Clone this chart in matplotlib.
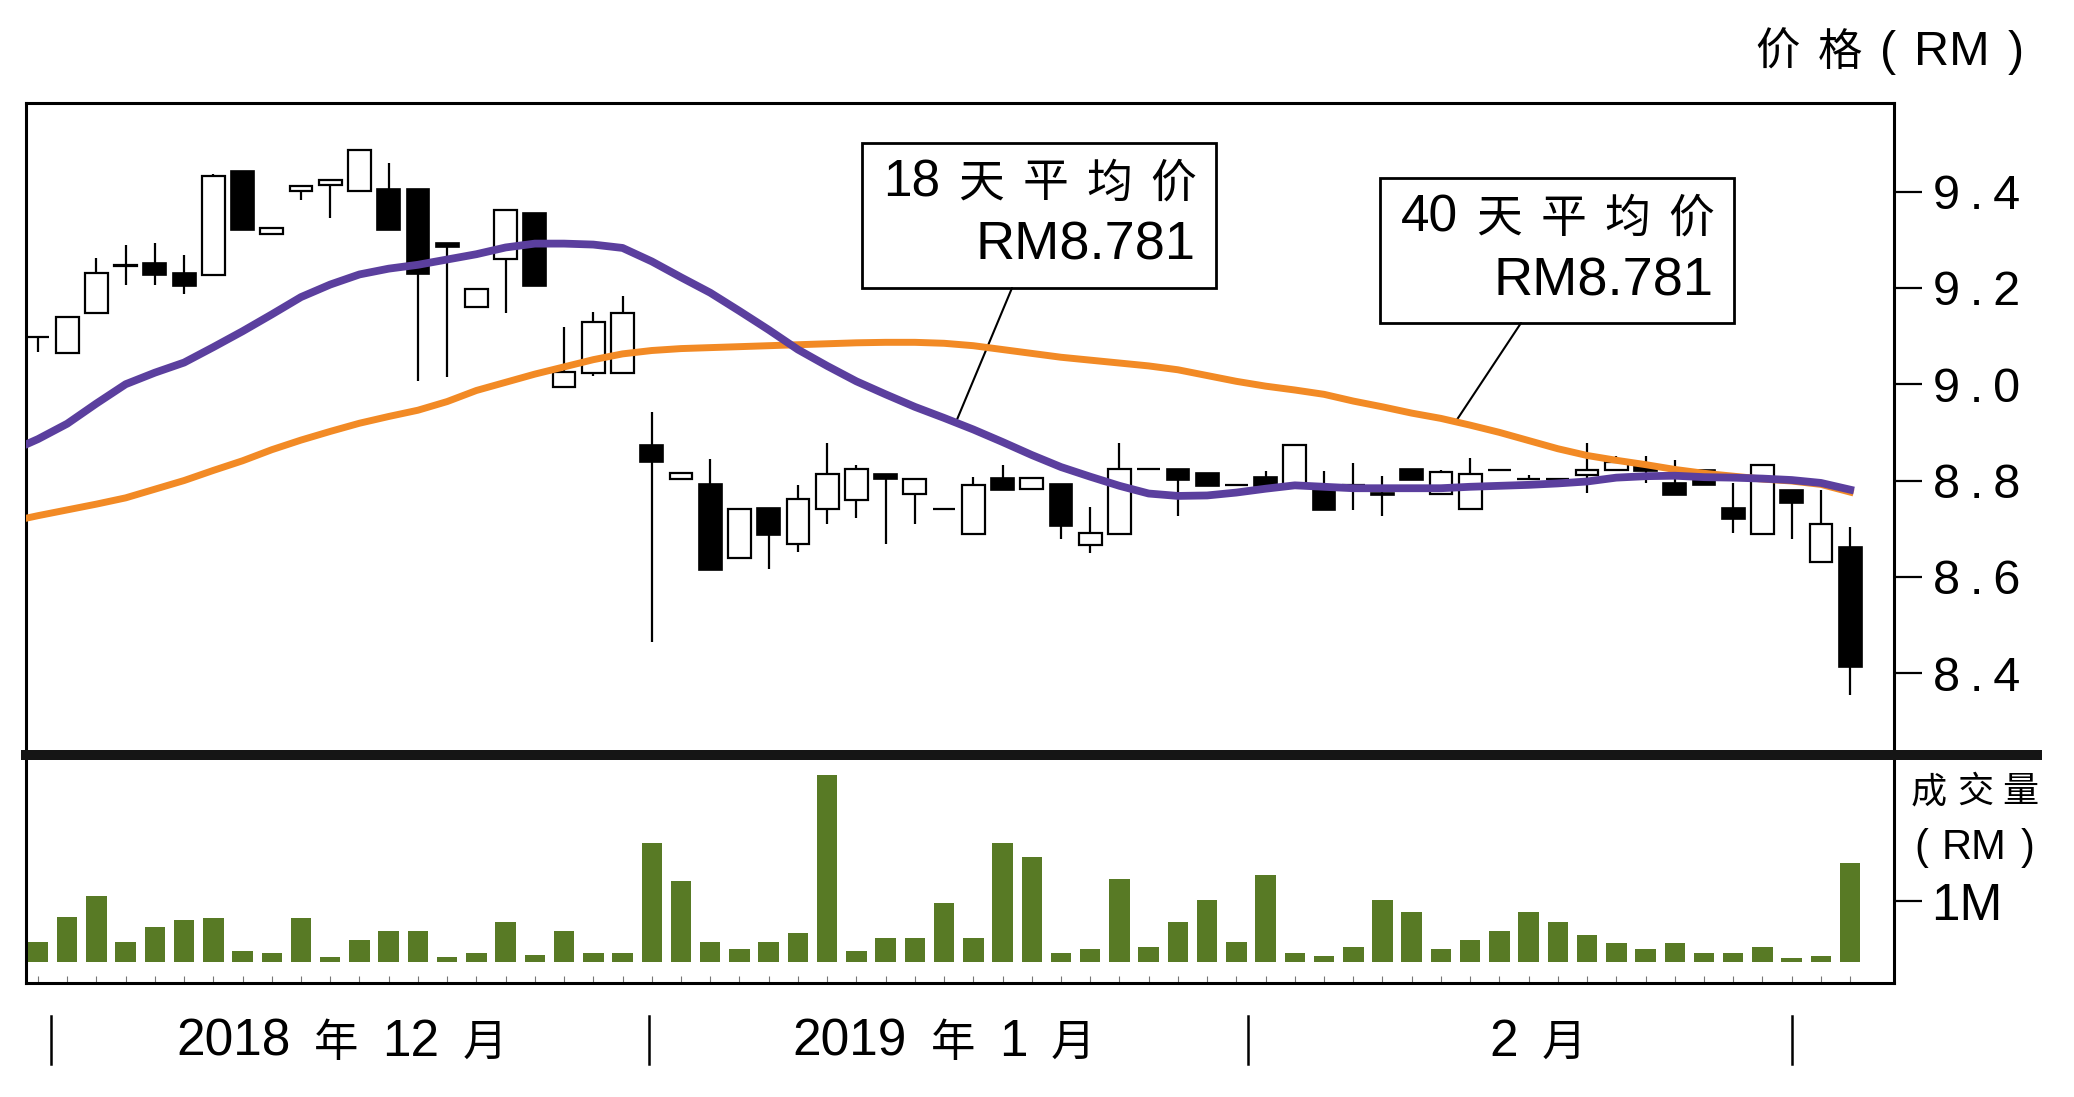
import numpy as np
import matplotlib
matplotlib.use('Agg')
import matplotlib.pyplot as plt
from matplotlib.lines import Line2D
from matplotlib.patches import Rectangle
from matplotlib.offsetbox import TextArea, HPacker, AnnotationBbox

plt.rcParams['font.family'] = ['Liberation Sans', 'Noto Sans CJK SC', 'DejaVu Sans']

# ---------------- data ----------------
opens = [9.098, 9.064, 9.148, 9.245, 9.251, 9.231, 9.227, 9.442, 9.312, 9.402,
         9.414, 9.402, 9.405, 9.406, 9.293, 9.160, 9.259, 9.356, 8.995, 9.024,
         9.023, 8.874, 8.803, 8.792, 8.639, 8.743, 8.668, 8.740, 8.760, 8.814,
         8.772, 8.740, 8.689, 8.805, 8.782, 8.792, 8.666, 8.689, 8.824, 8.824,
         8.815, 8.791, 8.807, 8.791, 8.781, 8.790, 8.775, 8.824, 8.772, 8.741,
         8.822, 8.803, 8.803, 8.812, 8.822, 8.833, 8.794, 8.822, 8.743, 8.689,
         8.781, 8.630, 8.661]
highs = [9.098, 9.139, 9.262, 9.289, 9.293, 9.269, 9.437, 9.442, 9.324, 9.412,
         9.424, 9.487, 9.459, 9.406, 9.293, 9.197, 9.362, 9.356, 9.119, 9.149,
         9.184, 8.943, 8.815, 8.845, 8.741, 8.743, 8.791, 8.878, 8.833, 8.814,
         8.804, 8.740, 8.808, 8.833, 8.805, 8.792, 8.745, 8.878, 8.824, 8.824,
         8.815, 8.791, 8.819, 8.874, 8.819, 8.836, 8.810, 8.824, 8.822, 8.846,
         8.822, 8.812, 8.803, 8.878, 8.850, 8.850, 8.843, 8.822, 8.794, 8.833,
         8.781, 8.781, 8.704]
lows = [9.066, 9.064, 9.148, 9.206, 9.206, 9.188, 9.227, 9.321, 9.312, 9.383,
        9.345, 9.402, 9.321, 9.007, 9.014, 9.160, 9.148, 9.204, 8.995, 9.018,
        9.023, 8.465, 8.803, 8.614, 8.639, 8.616, 8.651, 8.710, 8.722, 8.668,
        8.710, 8.740, 8.689, 8.781, 8.782, 8.678, 8.650, 8.689, 8.824, 8.727,
        8.789, 8.791, 8.789, 8.791, 8.739, 8.739, 8.727, 8.801, 8.772, 8.741,
        8.822, 8.803, 8.803, 8.774, 8.822, 8.794, 8.770, 8.791, 8.690, 8.689,
        8.678, 8.630, 8.355]
closes = [9.098, 9.139, 9.231, 9.247, 9.227, 9.204, 9.433, 9.321, 9.324, 9.412,
          9.424, 9.487, 9.321, 9.229, 9.285, 9.197, 9.362, 9.204, 9.025, 9.129,
          9.148, 8.839, 8.815, 8.614, 8.741, 8.687, 8.762, 8.813, 8.824, 8.803,
          8.804, 8.740, 8.791, 8.781, 8.805, 8.706, 8.690, 8.824, 8.824, 8.801,
          8.789, 8.791, 8.789, 8.874, 8.739, 8.790, 8.770, 8.801, 8.817, 8.814,
          8.822, 8.803, 8.803, 8.822, 8.839, 8.819, 8.770, 8.791, 8.720, 8.833,
          8.753, 8.710, 8.413]

# volume in millions of RM
volume_m = [0.32, 0.73, 1.08, 0.32, 0.575, 0.685, 0.72, 0.18, 0.14, 0.72,
            0.07, 0.356, 0.51, 0.51, 0.07, 0.14, 0.65, 0.105, 0.51, 0.14,
            0.14, 1.955, 1.33, 0.32, 0.21, 0.32, 0.466, 3.07, 0.18, 0.384,
            0.384, 0.97, 0.384, 1.955, 1.714, 0.14, 0.21, 1.353, 0.246, 0.657,
            1.013, 0.32, 1.424, 0.14, 0.1, 0.246, 1.013, 0.82, 0.21, 0.356,
            0.51, 0.82, 0.65, 0.438, 0.3, 0.21, 0.3, 0.14, 0.14, 0.246,
            0.055, 0.1, 1.615]

# moving averages, first value is the day before the first candle
ma18 = [8.859, 8.886, 8.918, 8.960, 9.000, 9.024, 9.045, 9.077, 9.110, 9.145,
        9.181, 9.207, 9.228, 9.240, 9.248, 9.259, 9.270, 9.284, 9.292, 9.292,
        9.290, 9.283, 9.255, 9.222, 9.190, 9.152, 9.113, 9.072, 9.038, 9.006,
        8.979, 8.953, 8.930, 8.906, 8.880, 8.853, 8.828, 8.808, 8.789, 8.773,
        8.768, 8.769, 8.775, 8.783, 8.790, 8.787, 8.784, 8.784, 8.784, 8.784,
        8.787, 8.789, 8.791, 8.794, 8.798, 8.806, 8.809, 8.810, 8.807, 8.806,
        8.804, 8.801, 8.795, 8.781]
ma40 = [8.714, 8.727, 8.739, 8.751, 8.764, 8.782, 8.800, 8.821, 8.841, 8.864,
        8.884, 8.902, 8.919, 8.933, 8.946, 8.964, 8.987, 9.004, 9.021, 9.036,
        9.051, 9.063, 9.070, 9.074, 9.076, 9.078, 9.080, 9.082, 9.084, 9.086,
        9.087, 9.087, 9.085, 9.080, 9.072, 9.064, 9.056, 9.050, 9.044, 9.038,
        9.030, 9.018, 9.006, 8.996, 8.988, 8.979, 8.965, 8.953, 8.940, 8.929,
        8.915, 8.900, 8.883, 8.866, 8.852, 8.842, 8.833, 8.823, 8.815, 8.809,
        8.803, 8.799, 8.792, 8.776]

price_ticks = [8.4, 8.6, 8.8, 9.0, 9.2, 9.4]
month_edges = [0.45, 20.9, 41.4, 60.0]
month_centers = [10.4, 31.0, 51.3]
month_labels = [['2018', '年', '12', '月'], ['2019', '年', '1', '月'], ['2', '月']]
ma18_label = [['18', '天', '平', '均', '价'], 'RM8.781']
ma40_label = [['40', '天', '平', '均', '价'], 'RM8.781']

# ---------------- layout helpers ----------------
W, H = 2074, 1097
def fx(px):
    return px / W
def fy(py):
    return 1 - py / H
def track(s):
    return '\u2009'.join(s)

def mixed_text(tokens, xy, coords, align_x, latin, cjk, sep):
    # latin and chinese pieces at their own sizes, like the newspaper graphic
    kids = []
    for t in tokens:
        if any(ord(ch) > 0x2E80 for ch in t):
            kids.append(TextArea(t, textprops=dict(fontsize=cjk, family='Noto Sans CJK SC')))
        else:
            kids.append(TextArea(t, textprops=dict(fontsize=latin, family='Liberation Sans')))
    box = HPacker(children=kids, align='baseline', pad=0, sep=sep)
    ab = AnnotationBbox(box, xy, xycoords=coords, box_alignment=(align_x, 0.5),
                        frameon=False, pad=0, annotation_clip=False)
    fig.add_artist(ab)

PURPLE = '#5b3f9e'
ORANGE = '#f28a25'
GREEN = '#587a25'

fig = plt.figure(figsize=(W / 100, H / 100), dpi=100)
ax = fig.add_axes([fx(26), fy(755), fx(1894 - 26), (755 - 103) / H])
axv = fig.add_axes([fx(26), fy(983), fx(1894 - 26), (983 - 755) / H], sharex=ax)

idx = np.arange(len(opens))
o = np.array(opens)
c = np.array(closes)
up = c >= o

# candles
ax.vlines(idx, lows, highs, color='black', lw=1.6, zorder=2)
ax.bar(idx[up], (c - o)[up], bottom=o[up], width=0.78, facecolor='white',
       edgecolor='black', linewidth=1.6, zorder=3)
ax.bar(idx[~up], (c - o)[~up], bottom=o[~up], width=0.78, color='black',
       edgecolor='black', linewidth=1.2, zorder=3)

# moving averages
ma_x = np.arange(-1, len(opens))
ax.plot(ma_x, ma40, color=ORANGE, lw=5.0, zorder=4, solid_joinstyle='round')
ax.plot(ma_x, ma18, color=PURPLE, lw=5.6, zorder=5, solid_joinstyle='round')

ax.set_xlim(-0.41, 63.5)
ax.set_ylim(8.230, 9.584)
ax.set_yticks(price_ticks)
ax.set_yticklabels([track(f'{v:.1f}') for v in price_ticks])
ax.tick_params(axis='y', left=False, labelleft=False, right=True, labelright=True,
               length=20, width=1.6, pad=8, labelsize=35)
ax.tick_params(axis='x', bottom=False, labelbottom=False)
for s in ['top', 'left', 'right']:
    ax.spines[s].set_linewidth(2.2)
ax.spines['bottom'].set_visible(False)

# volume
axv.bar(idx, volume_m, width=0.7, color=GREEN, zorder=3)
axv.set_ylim(-0.35, 3.394)
axv.set_yticks([1.0])
axv.set_yticklabels(['1M'])
axv.tick_params(axis='y', left=False, labelleft=False, right=True, labelright=True,
                length=20, width=1.6, pad=7, labelsize=37)
axv.set_xticks([])
axv.set_xticks(idx, minor=True)
axv.tick_params(axis='x', which='minor', direction='in', length=5, width=0.8,
                color='#777777', labelbottom=False)
for s in ['bottom', 'left', 'right']:
    axv.spines[s].set_linewidth(2.2)
axv.spines['top'].set_visible(False)

# thick separator between the panels
fig.add_artist(Line2D([fx(26), fx(2037)], [fy(755), fy(755)], lw=7.2,
                      color='#151515', transform=fig.transFigure))

# month axis under the volume panel
tr = axv.get_xaxis_transform()
for e in month_edges:
    axv.plot([e, e], [-0.145, -0.355], transform=tr, color='black', lw=1.8,
             clip_on=False)
for xc, toks in zip(month_centers, month_labels):
    mixed_text(toks, (xc, -0.259), tr, 0.5, 37, 32, 17)

# panel titles
mixed_text(['价', '格', '(', 'RM', ')'], (fx(2024), fy(52)), 'figure fraction',
           1.0, 35, 32, 13)
mixed_text(['成', '交', '量'], (fx(1911), fy(792)), 'figure fraction', 0.0, 25, 26, 7)
mixed_text(['(', 'RM', ')'], (fx(1914), fy(848)), 'figure fraction', 0.0, 30, 30, 10)

# callout boxes for the moving averages
def callout(x0, y0, x1, y1, lines, target_i, series, leader_px):
    fig.add_artist(Rectangle((fx(x0), fy(y1)), fx(x1 - x0), (y1 - y0) / H,
                             transform=fig.transFigure, fill=False,
                             edgecolor='black', lw=2.0))
    mixed_text(lines[0], (fx(x1 - 20), fy(y0 + 40)), 'figure fraction', 1.0, 37, 33, 13)
    fig.text(fx(x1 - 20), fy(y0 + 103), lines[1], ha='right', va='center',
             fontsize=39)
    ty = np.interp(target_i, ma_x, series)
    ax.annotate('', xy=(target_i, ty), xycoords='data',
                xytext=(fx(leader_px[0]), fy(leader_px[1])),
                textcoords='figure fraction',
                arrowprops=dict(arrowstyle='-', lw=1.5, color='black',
                                shrinkA=0, shrinkB=0))

callout(862, 143, 1216, 288, ma18_label, 31.4, ma18, (1012, 288))
callout(1380, 178, 1734, 323, ma40_label, 48.5, ma40, (1521, 323))

fig.savefig('out.png', dpi=100)
